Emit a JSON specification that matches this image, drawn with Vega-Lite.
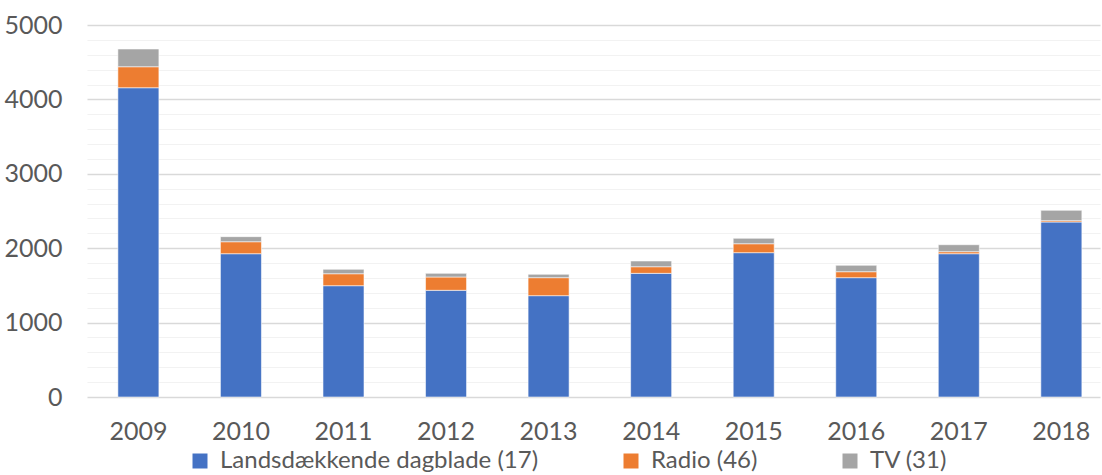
{
  "$schema": "https://vega.github.io/schema/vega-lite/v6.json",
  "autosize": "none",
  "width": 1013,
  "height": 372,
  "padding": {"left": 87, "top": 25, "right": 2, "bottom": 78},
  "background": "#ffffff",
  "config": {
    "view": {"stroke": null},
    "font": "Lato"
  },
  "data": {
    "values": [
      {"year": "2009", "type": "Landsdækkende dagblade (17)", "ord": 1, "value": 4157},
      {"year": "2009", "type": "Radio (46)", "ord": 2, "value": 282},
      {"year": "2009", "type": "TV (31)", "ord": 3, "value": 238},
      {"year": "2010", "type": "Landsdækkende dagblade (17)", "ord": 1, "value": 1926},
      {"year": "2010", "type": "Radio (46)", "ord": 2, "value": 161},
      {"year": "2010", "type": "TV (31)", "ord": 3, "value": 68},
      {"year": "2011", "type": "Landsdækkende dagblade (17)", "ord": 1, "value": 1496},
      {"year": "2011", "type": "Radio (46)", "ord": 2, "value": 161},
      {"year": "2011", "type": "TV (31)", "ord": 3, "value": 59},
      {"year": "2012", "type": "Landsdækkende dagblade (17)", "ord": 1, "value": 1434},
      {"year": "2012", "type": "Radio (46)", "ord": 2, "value": 179},
      {"year": "2012", "type": "TV (31)", "ord": 3, "value": 49},
      {"year": "2013", "type": "Landsdækkende dagblade (17)", "ord": 1, "value": 1362},
      {"year": "2013", "type": "Radio (46)", "ord": 2, "value": 242},
      {"year": "2013", "type": "TV (31)", "ord": 3, "value": 45},
      {"year": "2014", "type": "Landsdækkende dagblade (17)", "ord": 1, "value": 1662},
      {"year": "2014", "type": "Radio (46)", "ord": 2, "value": 89},
      {"year": "2014", "type": "TV (31)", "ord": 3, "value": 77},
      {"year": "2015", "type": "Landsdækkende dagblade (17)", "ord": 1, "value": 1940},
      {"year": "2015", "type": "Radio (46)", "ord": 2, "value": 120},
      {"year": "2015", "type": "TV (31)", "ord": 3, "value": 73},
      {"year": "2016", "type": "Landsdækkende dagblade (17)", "ord": 1, "value": 1604},
      {"year": "2016", "type": "Radio (46)", "ord": 2, "value": 80},
      {"year": "2016", "type": "TV (31)", "ord": 3, "value": 86},
      {"year": "2017", "type": "Landsdækkende dagblade (17)", "ord": 1, "value": 1926},
      {"year": "2017", "type": "Radio (46)", "ord": 2, "value": 27},
      {"year": "2017", "type": "TV (31)", "ord": 3, "value": 94},
      {"year": "2018", "type": "Landsdækkende dagblade (17)", "ord": 1, "value": 2352},
      {"year": "2018", "type": "Radio (46)", "ord": 2, "value": 18},
      {"year": "2018", "type": "TV (31)", "ord": 3, "value": 139}
    ]
  },
  "mark": {"type": "bar", "stroke": "#ffffff", "strokeWidth": 0.8, "strokeOpacity": 0.7},
  "encoding": {
    "x": {
      "field": "year",
      "type": "nominal",
      "sort": null,
      "scale": {"paddingInner": 0.6, "paddingOuter": 0.239, "align": 0.63},
      "axis": {
        "title": null,
        "labelAngle": 0,
        "domain": false,
        "ticks": false,
        "tickSize": 0,
        "labelPadding": 22,
        "labelBaseline": "top",
        "labelFontSize": 25,
        "labelColor": "#595959",
        "labelFont": "Lato"
      }
    },
    "y": {
      "field": "value",
      "type": "quantitative",
      "stack": "zero",
      "scale": {"domain": [0, 5000], "nice": false},
      "axis": {
        "title": null,
        "domain": false,
        "ticks": false,
        "tickSize": 0,
        "values": [0, 200, 400, 600, 800, 1000, 1200, 1400, 1600, 1800, 2000, 2200, 2400, 2600, 2800, 3000, 3200, 3400, 3600, 3800, 4000, 4200, 4400, 4600, 4800, 5000],
        "labelExpr": "datum.value % 1000 === 0 ? datum.label : ''",
        "format": "d",
        "labelPadding": 25,
        "labelFontSize": 25,
        "labelColor": "#595959",
        "labelFont": "Lato",
        "gridColor": {"condition": {"test": "datum.value % 1000 === 0", "value": "#d9d9d9"}, "value": "#f2f2f2"},
        "gridWidth": {"condition": {"test": "datum.value % 1000 === 0", "value": 1.5}, "value": 1.2}
      }
    },
    "color": {
      "field": "type",
      "type": "nominal",
      "sort": ["Landsdækkende dagblade (17)", "Radio (46)", "TV (31)"],
      "scale": {"domain": ["Landsdækkende dagblade (17)", "Radio (46)", "TV (31)"], "range": ["#4472C4", "#ED7D31", "#A5A5A5"]},
      "legend": {
        "title": null,
        "orient": "none",
        "direction": "horizontal",
        "legendX": 101,
        "legendY": 424,
        "symbolType": "square",
        "symbolSize": 225,
        "symbolStrokeWidth": 0,
        "labelFontSize": 24,
        "labelColor": "#595959",
        "labelFont": "Lato",
        "labelOffset": 8,
        "columnPadding": 80,
        "labelLimit": 500
      }
    },
    "order": {"field": "ord", "type": "quantitative"}
  }
}
